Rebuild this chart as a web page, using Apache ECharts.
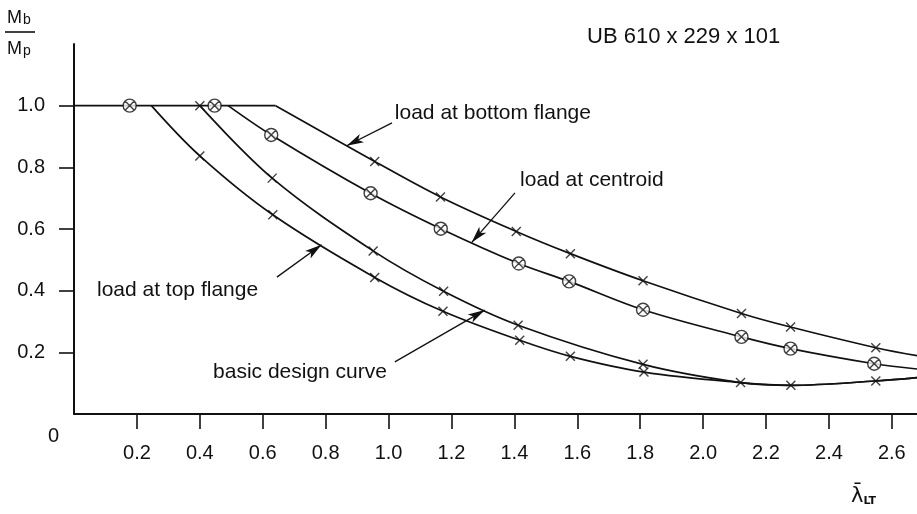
<!DOCTYPE html>
<html>
<head>
<meta charset="utf-8">
<script src="https://cdn.jsdelivr.net/npm/echarts@6/dist/echarts.min.js"></script>
<style>
  html, body { margin: 0; padding: 0; background: #fff; }
  #chart { width: 917px; height: 514px; }
</style>
</head>
<body>
<div id="chart"></div>
<script>
// Axis tick values
const xTickValues = [0.2, 0.4, 0.6, 0.8, 1.0, 1.2, 1.4, 1.6, 1.8, 2.0, 2.2, 2.4, 2.6];
const yTickValues = [0.2, 0.4, 0.6, 0.8, 1.0];
const yLabelValues = [0, 0.2, 0.4, 0.6, 0.8, 1.0];

// Plastic plateau Mb/Mp = 1.0 shared by all curves
const plateauLambda = [0, 0.641];
const plateauRatio = [1.0, 1.0];

// Load at top flange
const topLambda = [0.246, 0.40, 0.632, 0.956, 1.173, 1.417, 1.578, 1.812, 2.119, 2.279, 2.549, 2.68];
const topRatio  = [1.0, 0.837, 0.646, 0.443, 0.333, 0.239, 0.187, 0.136, 0.102, 0.093, 0.107, 0.118];
const topTestLambda = [0.40, 0.632, 0.956, 1.173, 1.417, 1.578, 1.812, 2.119, 2.279, 2.549];
const topTestRatio  = [0.837, 0.646, 0.443, 0.333, 0.239, 0.187, 0.136, 0.102, 0.093, 0.107];

// Basic design curve
const basicLambda = [0.40, 0.63, 0.951, 1.175, 1.412, 1.809, 2.119, 2.279, 2.549, 2.68];
const basicRatio  = [1.0, 0.765, 0.529, 0.398, 0.288, 0.161, 0.102, 0.093, 0.107, 0.118];
const basicTestLambda = [0.40, 0.63, 0.951, 1.175, 1.412, 1.809];
const basicTestRatio  = [1.0, 0.765, 0.529, 0.398, 0.288, 0.161];

// Load at centroid
const centLambda = [0.49, 0.627, 0.943, 1.166, 1.414, 1.574, 1.809, 2.122, 2.278, 2.544, 2.68];
const centRatio  = [1.0, 0.905, 0.716, 0.601, 0.488, 0.430, 0.338, 0.250, 0.212, 0.163, 0.146];
const centTestLambda = [0.177, 0.447, 0.627, 0.943, 1.166, 1.414, 1.574, 1.809, 2.122, 2.278, 2.544];
const centTestRatio  = [1.0, 1.0, 0.905, 0.716, 0.601, 0.488, 0.430, 0.338, 0.250, 0.212, 0.163];

// Load at bottom flange
const botLambda = [0.641, 0.956, 1.165, 1.406, 1.578, 1.809, 2.122, 2.278, 2.549, 2.68];
const botRatio  = [1.0, 0.819, 0.704, 0.592, 0.520, 0.432, 0.326, 0.282, 0.215, 0.189];
const botTestLambda = [0.956, 1.165, 1.406, 1.578, 1.809, 2.122, 2.278, 2.549];
const botTestRatio  = [0.819, 0.704, 0.592, 0.520, 0.432, 0.326, 0.282, 0.215];

const ink = '#111';
const font = 'Liberation Sans';
const zip = (xs, ys) => xs.map((x, i) => [x, ys[i]]);

const crossSymbol = 'path://M0,0L10,10M10,0L0,10';
const circleCrossSymbol = 'path://M20,10A10,10,0,1,1,0,10A10,10,0,1,1,20,10Z M2.93,2.93L17.07,17.07 M17.07,2.93L2.93,17.07';

function curve(xs, ys) {
  return {
    type: 'line', data: zip(xs, ys), smooth: 0.35, showSymbol: false, silent: true,
    lineStyle: { color: ink, width: 1.7 }, z: 2
  };
}
function markers(xs, ys, symbol, size, fill) {
  return {
    type: 'scatter', data: zip(xs, ys), symbol: symbol, symbolSize: size, silent: true,
    itemStyle: { color: fill, borderColor: ink, borderWidth: 1.4 }, z: 5
  };
}

const chart = echarts.init(document.getElementById('chart'));

chart.setOption({
  animation: false,
  backgroundColor: '#fff',
  grid: { left: 74, right: 0, top: 44, bottom: 100 },
  xAxis: {
    type: 'value', min: 0, max: 2.68,
    splitLine: { show: false },
    axisLine: { lineStyle: { color: ink, width: 2 } },
    axisTick: { show: true, inside: false, length: 15, customValues: xTickValues,
                lineStyle: { color: ink, width: 1.6 } },
    axisLabel: { customValues: xTickValues, margin: 29, color: ink, fontFamily: font, fontSize: 20,
                 formatter: v => v.toFixed(1) }
  },
  yAxis: {
    type: 'value', min: 0, max: 1.2,
    splitLine: { show: false },
    axisLine: { lineStyle: { color: ink, width: 2 } },
    axisTick: { show: true, inside: false, length: 15, customValues: yTickValues,
                lineStyle: { color: ink, width: 1.6 } },
    axisLabel: {
      customValues: yLabelValues, margin: 15, color: ink, fontFamily: font, fontSize: 20,
      formatter: v => (v === 0 ? '{z|0}' : '{n|' + v.toFixed(1) + '}'),
      rich: {
        n: { fontFamily: font, fontSize: 20, color: ink, padding: [0, 14, 0, 0] },
        z: { fontFamily: font, fontSize: 20, color: ink, padding: [44, 0, 0, 0] }
      }
    }
  },
  series: [
    {
      type: 'line', data: zip(plateauLambda, plateauRatio), showSymbol: false, silent: true,
      lineStyle: { color: ink, width: 1.9 }, z: 2,
      markLine: {
        silent: true, symbol: ['none', 'arrow'], symbolSize: [7, 17],
        label: { show: false },
        lineStyle: { color: ink, width: 1.3, type: 'solid' },
        data: [
          [{ coord: [1.011, 0.944] }, { coord: [0.867, 0.870] }],
          [{ coord: [1.402, 0.717] }, { coord: [1.264, 0.556] }],
          [{ coord: [0.645, 0.444] }, { coord: [0.787, 0.549] }],
          [{ coord: [1.020, 0.169] }, { coord: [1.306, 0.337] }]
        ]
      }
    },
    curve(topLambda, topRatio),
    curve(basicLambda, basicRatio),
    curve(centLambda, centRatio),
    curve(botLambda, botRatio),
    markers(topTestLambda, topTestRatio, crossSymbol, 9, 'rgba(0,0,0,0)'),
    markers(basicTestLambda, basicTestRatio, crossSymbol, 9, 'rgba(0,0,0,0)'),
    markers(botTestLambda, botTestRatio, crossSymbol, 9, 'rgba(0,0,0,0)'),
    markers(centTestLambda, centTestRatio, circleCrossSymbol, 13, '#fff')
  ]
});

// Curve annotations, anchored in data space
const notes = [
  { text: 'load at bottom flange', at: [1.02, 0.976] },
  { text: 'load at centroid', at: [1.418, 0.759] },
  { text: 'load at top flange', at: [0.073, 0.402] },
  { text: 'basic design curve', at: [0.442, 0.136] }
];
const graphics = notes.map(n => {
  const p = chart.convertToPixel({ gridIndex: 0 }, n.at);
  return {
    type: 'text', x: p[0], y: p[1], silent: true,
    style: { text: n.text, fill: ink, font: '21px "' + font + '"', textAlign: 'left', textVerticalAlign: 'middle' }
  };
});

// Section title
graphics.push({
  type: 'text', x: 587, y: 37, silent: true,
  style: { text: 'UB 610 x 229 x 101', fill: ink, font: '22px "' + font + '"', textAlign: 'left', textVerticalAlign: 'middle' }
});

// Vertical axis name Mb / Mp
const subRich = {
  m: { fontSize: 18, fontFamily: font, fill: ink },
  s: { fontSize: 14, fontFamily: font, fill: ink, verticalAlign: 'bottom', padding: [0, 0, 0, 1] }
};
graphics.push({
  type: 'text', x: 7, y: 9, silent: true,
  style: { text: '{m|M}{s|b}', rich: subRich }
});
graphics.push({
  type: 'line', silent: true, shape: { x1: 5, y1: 32, x2: 35, y2: 32 },
  style: { stroke: ink, lineWidth: 1.6 }
});
graphics.push({
  type: 'text', x: 7, y: 40, silent: true,
  style: { text: '{m|M}{s|p}', rich: subRich }
});

// Horizontal axis name: lambda-bar LT
graphics.push({
  type: 'text', x: 851, y: 486, silent: true,
  style: { text: '{l|λ̄}{s|LT}', rich: { l: { fontSize: 21, fontFamily: 'DejaVu Sans', fill: ink },
                                          s: { fontSize: 11, fontFamily: 'DejaVu Sans', fontWeight: 'bold', fill: ink, verticalAlign: 'bottom' } } }
});

chart.setOption({ graphic: graphics });
</script>
</body>
</html>
